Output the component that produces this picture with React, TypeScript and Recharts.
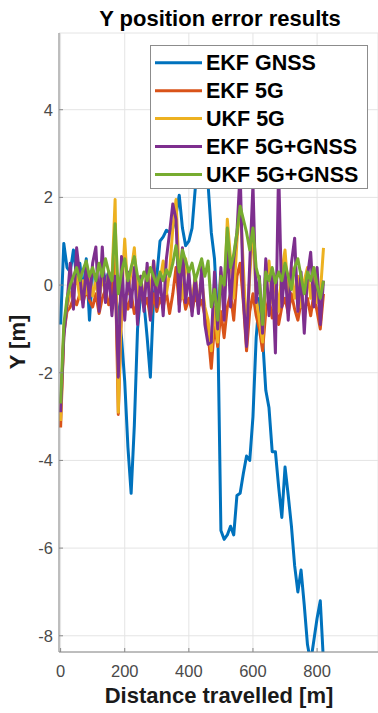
import React from "react";
import { LineChart, Line, XAxis, YAxis, CartesianGrid, Legend } from "recharts";

// distance travelled [m]
const distance = [
  0, 10, 20, 30, 40, 50, 60, 70, 80, 90, 100, 110, 120, 130, 140, 150, 160, 170, 180, 190,
  200, 210, 220, 230, 240, 250, 260, 270, 280, 290, 300, 310, 320, 330, 340, 350, 360, 370, 380, 390,
  400, 410, 420, 430, 440, 450, 460, 470, 480, 490, 500, 510, 520, 530, 540, 550, 560, 570, 580, 590,
  600, 610, 620, 630, 640, 650, 660, 670, 680, 690, 700, 710, 720, 730, 740, 750, 760, 770, 780, 790,
  800, 810, 820,
];

const ekfGnss = [
  -0.9, 0.95, 0.4, 0.3, 0.8, 0.2, 0.5, -0.2, 0.6, -0.8, 0.3, 0.2, -0.3, 0.4, 0.1, 0.3, 0.0, -0.2, -0.6, -1.2,
  -2.2, -3.7, -4.75, -3.2, -1.0, -0.2, -0.4, -1.2, -2.1, -0.3, 0.2, 1.0, 1.1, 1.25, 1.2, 1.3, 1.6, 2.05, 1.3, 0.9,
  1.0, 1.3, 2.2, 3.2, 3.6, 3.4, 2.3, 1.2, 0.6, -0.8, -5.6, -5.8, -5.7, -5.5, -5.7, -4.8, -4.75, -4.3, -3.9, -4.0,
  -3.0, -1.2, -0.3, -1.2, -2.4, -2.8, -3.8, -3.8, -4.6, -5.3, -4.15, -4.8, -5.5, -6.4, -7.0, -6.5, -7.3, -8.2, -8.6, -8.1,
  -7.6, -7.2, -8.6,
];

const ekf5g = [
  -3.25, -1.1, -0.6, -0.5, -0.3, -0.45, -0.2, -0.4, -0.1, -0.35, -0.5, -0.2, -0.65, -0.3, -0.1, -0.45, -0.2, 0.6, -2.95, -0.6,
  -0.3, -0.55, -0.2, -0.65, -0.4, -0.1, -0.5, -0.3, -0.75, -0.2, -0.6, -0.3, -0.5, -0.15, -0.65, -0.2, 0.4, -0.45, -0.1, -0.55,
  -0.3, -0.6, -0.2, -0.5, -0.35, -0.7, -1.1, -1.9, -0.9, -1.4, -0.6, -1.2, -0.5, -0.2, -0.8, 0.2, 0.5, -0.4, -1.5, -0.6,
  -0.2, -0.7, -1.0, -1.5, -0.6, -0.3, -0.75, -0.4, -0.9, -0.5, -0.3, -0.65, -0.2, -0.55, -0.8, -0.4, -0.6, -0.3, -0.7, -0.2,
  -0.6, -1.0, -0.2,
];

const ukf5g = [
  -3.1, -1.0, -0.5, -0.2, -0.1, 0.2, -0.3, 0.1, -0.2, 0.3, -0.25, 0.1, -0.4, 0.2, -0.15, 0.3, 0.1, 1.95, -2.9, -0.3,
  1.05, -0.2, 0.3, 0.85, -0.3, 0.2, -0.4, 0.4, -0.2, 0.55, -0.3, 0.1, 0.55, -0.2, 0.3, 1.3, 1.95, 0.2, -0.3, 0.6,
  0.1, -0.35, 0.2, -0.4, 0.1, -0.5, -0.8, -1.5, -0.5, -1.3, 0.3, -0.4, 1.5, 0.6, -0.3, 1.0, 1.9, 0.4, -1.1, 0.2,
  1.4, -0.3, -0.8, -1.3, 0.1, 0.55, -0.4, 0.2, -0.6, 0.3, 0.8, -0.2, 0.4, -0.3, 0.2, -0.5, 0.1, 0.4, -0.3, 0.3,
  -0.4, -0.2, 0.85,
];

const ekf5gGnss = [
  -2.9, -1.2, -0.4, 0.5, -0.55, 0.85, 0.2, -0.5, 0.4, -0.3, 0.5, 0.87, -0.6, 0.87, -0.4, 0.3, -0.7, 0.2, -2.1, 0.65,
  -0.8, 0.3, -0.5, 0.4, -0.9, 0.2, -0.6, 0.5, -0.8, 0.55, -0.5, 0.2, -0.7, 0.6, 1.2, 1.85, 1.5, -0.6, 0.85, -0.4,
  0.3, -0.7, 0.2, -0.65, 0.4, -0.9, -1.35, -1.3, 0.3, -1.0, 0.4, -0.8, 1.1, -0.5, 0.6, 1.2, 2.6, -0.3, -1.4, 0.5,
  2.3, -0.4, 0.2, -1.1, 0.6, -0.7, 0.3, -1.55, 2.7, -0.5, 0.4, -0.8, 0.5, 1.07, -0.6, 0.3, -1.1, 0.2, 0.75, -0.5,
  0.4, -0.9, 0.1,
];

const ukf5gGnss = [
  -2.7, -0.9, -0.3, 0.0, 0.2, 0.4, 0.1, 0.35, 0.55, 0.2, 0.4, 0.1, 0.5, 0.2, 0.6, 0.3, 0.1, 1.4, -0.2, 0.3,
  0.6, 0.1, 0.4, 0.65, 0.2, 0.0, 0.3, 0.1, 0.4, 0.2, 0.0, 0.3, 0.1, 0.35, 0.2, 0.5, 0.9, 0.3, 0.8, 0.55,
  0.3, 0.5, 0.1, 0.35, 0.6, 0.2, 0.55, -0.5, -0.1, -0.8, 0.2, 0.0, 1.3, 0.4, 0.7, 1.2, 1.8, 1.5, 1.2, 0.8,
  1.3, 0.4, 0.1, -0.9, 0.3, 0.1, 0.4, 0.05, 0.3, 0.1, 0.5, 0.2, -0.1, 0.4, 0.6, 0.2, -0.2, 0.3, 0.1, 0.4,
  0.0, -0.3, 0.1,
];

const xTicks = [0, 200, 400, 600, 800];
const yTicks = [-8, -6, -4, -2, 0, 2, 4];

const series = [
  { key: "ekfGnss", name: "EKF GNSS", color: "#0072BD" },
  { key: "ekf5g", name: "EKF 5G", color: "#D95319" },
  { key: "ukf5g", name: "UKF 5G", color: "#EDB120" },
  { key: "ekf5gGnss", name: "EKF 5G+GNSS", color: "#7E2F8E" },
  { key: "ukf5gGnss", name: "UKF 5G+GNSS", color: "#77AC30" },
];

const data = distance.map((d, i) => ({
  distance: d,
  ekfGnss: ekfGnss[i],
  ekf5g: ekf5g[i],
  ukf5g: ukf5g[i],
  ekf5gGnss: ekf5gGnss[i],
  ukf5gGnss: ukf5gGnss[i],
}));

const FONT = "'Liberation Sans', Arial, Helvetica, sans-serif";

// MATLAB style legend box
const LegendBox = () => (
  <svg width={218} height={144} style={{ display: "block" }}>
    <rect x={0.5} y={0.5} width={217} height={143} fill="#ffffff" stroke="#8c8c8c" strokeWidth={1} />
    {series.map((s, i) => {
      const cy = 17.8 + i * 27.9;
      return (
        <g key={s.key}>
          <line x1={5} x2={52} y1={cy} y2={cy} stroke={s.color} strokeWidth={3} />
          <text x={56} y={cy + 7.5} fontSize={21.5} fontWeight="bold" fill="#000" fontFamily={FONT}>
            {s.name}
          </text>
        </g>
      );
    })}
  </svg>
);

export default function App() {
  return (
    <div style={{ position: "absolute", left: 0, top: 0, width: 378, height: 713, background: "#fff" }}>
      <LineChart
        width={378}
        height={713}
        data={data}
        margin={{ top: 33, right: 0, bottom: 0, left: 0 }}
        style={{ fontFamily: FONT }}
      >
        <CartesianGrid stroke="#e4e4e4" strokeWidth={1} />
        <XAxis
          dataKey="distance"
          type="number"
          domain={[-5, 990]}
          ticks={xTicks}
          interval={0}
          allowDataOverflow
          height={61}
          tickSize={-4}
          tickMargin={17}
          stroke="#8a8a8a"
          tick={{ fill: "#4a4a4a", fontSize: 16.5 }}
        />
        <YAxis
          type="number"
          domain={[-8.37, 5.75]}
          ticks={yTicks}
          interval={0}
          allowDataOverflow
          width={59}
          tickSize={-4}
          tickMargin={10}
          stroke="#8a8a8a"
          tick={{ fill: "#4a4a4a", fontSize: 16.5 }}
        />
        {series.map((s) => (
          <Line
            key={s.key}
            type="linear"
            dataKey={s.key}
            name={s.name}
            stroke={s.color}
            strokeWidth={3}
            strokeLinejoin="round"
            dot={false}
            activeDot={false}
            isAnimationActive={false}
          />
        ))}
        <Legend
          layout="vertical"
          align="center"
          verticalAlign="middle"
          content={() => <LegendBox />}
          wrapperStyle={{ left: 150, top: 45, width: 218, height: 144 }}
        />
        <text x={220} y={26} textAnchor="middle" fontSize={22} fontWeight="bold" fill="#000" fontFamily={FONT}>
          Y position error results
        </text>
        <text x={219} y={703} textAnchor="middle" fontSize={22} fontWeight="bold" fill="#1a1a1a" fontFamily={FONT}>
          Distance travelled [m]
        </text>
        <text
          x={25}
          y={342}
          textAnchor="middle"
          fontSize={22}
          fontWeight="bold"
          fill="#1a1a1a"
          fontFamily={FONT}
          transform="rotate(-90, 25, 342)"
        >
          Y [m]
        </text>
      </LineChart>
    </div>
  );
}
